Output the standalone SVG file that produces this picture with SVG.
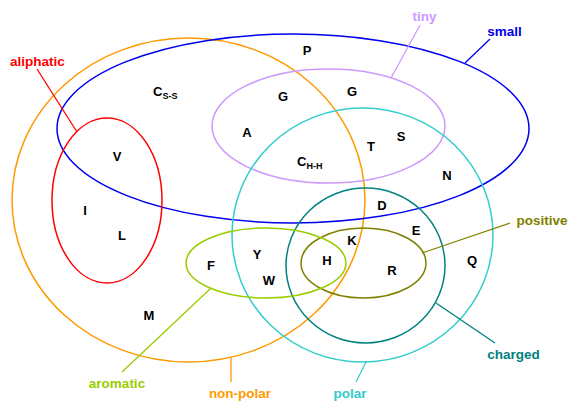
<svg xmlns="http://www.w3.org/2000/svg" width="571" height="402" viewBox="0 0 571 402">
  <style>
    .set { fill: none; stroke-width: 1.5; }
    .lead { fill: none; stroke-width: 1.3; }
    .lbl { font-family: "Liberation Sans", Arial, sans-serif; font-weight: bold; font-size: 13.5px; }
    .aa { font-family: "Liberation Sans", Arial, sans-serif; font-weight: bold; font-size: 13px; fill: #000; text-anchor: middle; }
    .sub { font-size: 9px; }
    .nonpolar { stroke: #FF9900; fill: #FF9900; }
    .small { stroke: #0000EE; fill: #0000EE; }
    .tiny { stroke: #CC99FF; fill: #CC99FF; }
    .polar { stroke: #33CCCC; fill: #33CCCC; }
    .charged { stroke: #008080; fill: #008080; }
    .positive { stroke: #808000; fill: #808000; }
    .aromatic { stroke: #99CC00; fill: #99CC00; }
    .aliphatic { stroke: #FF0000; fill: #FF0000; }
    text.lbl { stroke: none; }
  </style>

  <rect width="571" height="402" fill="#fff"/>

  <g id="non-polar">
    <ellipse class="set nonpolar" style="fill:none" cx="188.5" cy="200" rx="176.5" ry="162"/>
    <text class="lbl nonpolar" x="240" y="398" text-anchor="middle">non-polar</text>
  </g>

  <g id="small">
    <ellipse class="set small" style="fill:none" cx="293" cy="128.5" rx="236" ry="94.5"/>
    <text class="lbl small" x="504.5" y="36" text-anchor="middle">small</text>
  </g>

  <g id="tiny">
    <ellipse class="set tiny" style="fill:none" cx="328.5" cy="126" rx="116.5" ry="57"/>
    <text class="lbl tiny" x="424.5" y="21" text-anchor="middle">tiny</text>
  </g>

  <g id="polar">
    <ellipse class="set polar" style="fill:none" cx="362.5" cy="235" rx="130.5" ry="127"/>
    <text class="lbl polar" x="350" y="398" text-anchor="middle">polar</text>
  </g>

  <g id="charged">
    <ellipse class="set charged" style="fill:none" cx="365.5" cy="265.5" rx="79.5" ry="77.5"/>
    <text class="lbl charged" x="513.5" y="359" text-anchor="middle">charged</text>
  </g>

  <g id="positive">
    <ellipse class="set positive" style="fill:none" cx="363.5" cy="263" rx="62.5" ry="35"/>
    <text class="lbl positive" x="542" y="225" text-anchor="middle">positive</text>
  </g>

  <g id="aromatic">
    <ellipse class="set aromatic" style="fill:none" cx="266" cy="263" rx="80" ry="35"/>
    <text class="lbl aromatic" x="117" y="388" text-anchor="middle">aromatic</text>
  </g>

  <g id="aliphatic">
    <ellipse class="set aliphatic" style="fill:none" cx="107" cy="200.5" rx="55" ry="82.5"/>
    <text class="lbl aliphatic" x="37.5" y="66" text-anchor="middle">aliphatic</text>
  </g>

  <!-- leader lines from set labels to their outlines -->
  <g id="connectors">
    <line class="lead aliphatic" x1="37" y1="69" x2="77" y2="132"/>
    <line class="lead tiny" x1="420" y1="25" x2="391" y2="78"/>
    <line class="lead small" x1="490" y1="39" x2="465" y2="63"/>
    <line class="lead aromatic" x1="122" y1="372" x2="211" y2="288"/>
    <line class="lead nonpolar" x1="231" y1="357" x2="231" y2="382"/>
    <line class="lead polar" x1="366" y1="362" x2="356" y2="382"/>
    <line class="lead charged" x1="436" y1="303" x2="495" y2="343"/>
    <line class="lead positive" x1="510" y1="223" x2="422" y2="253"/>
  </g>

  <!-- amino acid letters -->
  <g id="residues">
    <text class="aa" x="307" y="55">P</text>
    <text class="aa" x="160" y="96" text-anchor="start" style="text-anchor:start" dx="-7">C<tspan class="sub" dy="3">S-S</tspan></text>
    <text class="aa" x="283" y="101">G</text>
    <text class="aa" x="352" y="96">G</text>
    <text class="aa" x="247" y="137">A</text>
    <text class="aa" x="117" y="161">V</text>
    <text class="aa" x="371" y="151">T</text>
    <text class="aa" x="401" y="141">S</text>
    <text class="aa" x="297" y="166" style="text-anchor:start">C<tspan class="sub" dy="3">H-H</tspan></text>
    <text class="aa" x="447" y="180">N</text>
    <text class="aa" x="85" y="215">I</text>
    <text class="aa" x="122" y="240">L</text>
    <text class="aa" x="211" y="270">F</text>
    <text class="aa" x="257" y="259">Y</text>
    <text class="aa" x="269" y="285">W</text>
    <text class="aa" x="149" y="320">M</text>
    <text class="aa" x="382" y="210">D</text>
    <text class="aa" x="416" y="235">E</text>
    <text class="aa" x="352" y="245">K</text>
    <text class="aa" x="327" y="265">H</text>
    <text class="aa" x="392" y="275">R</text>
    <text class="aa" x="472" y="265">Q</text>
  </g>
</svg>
